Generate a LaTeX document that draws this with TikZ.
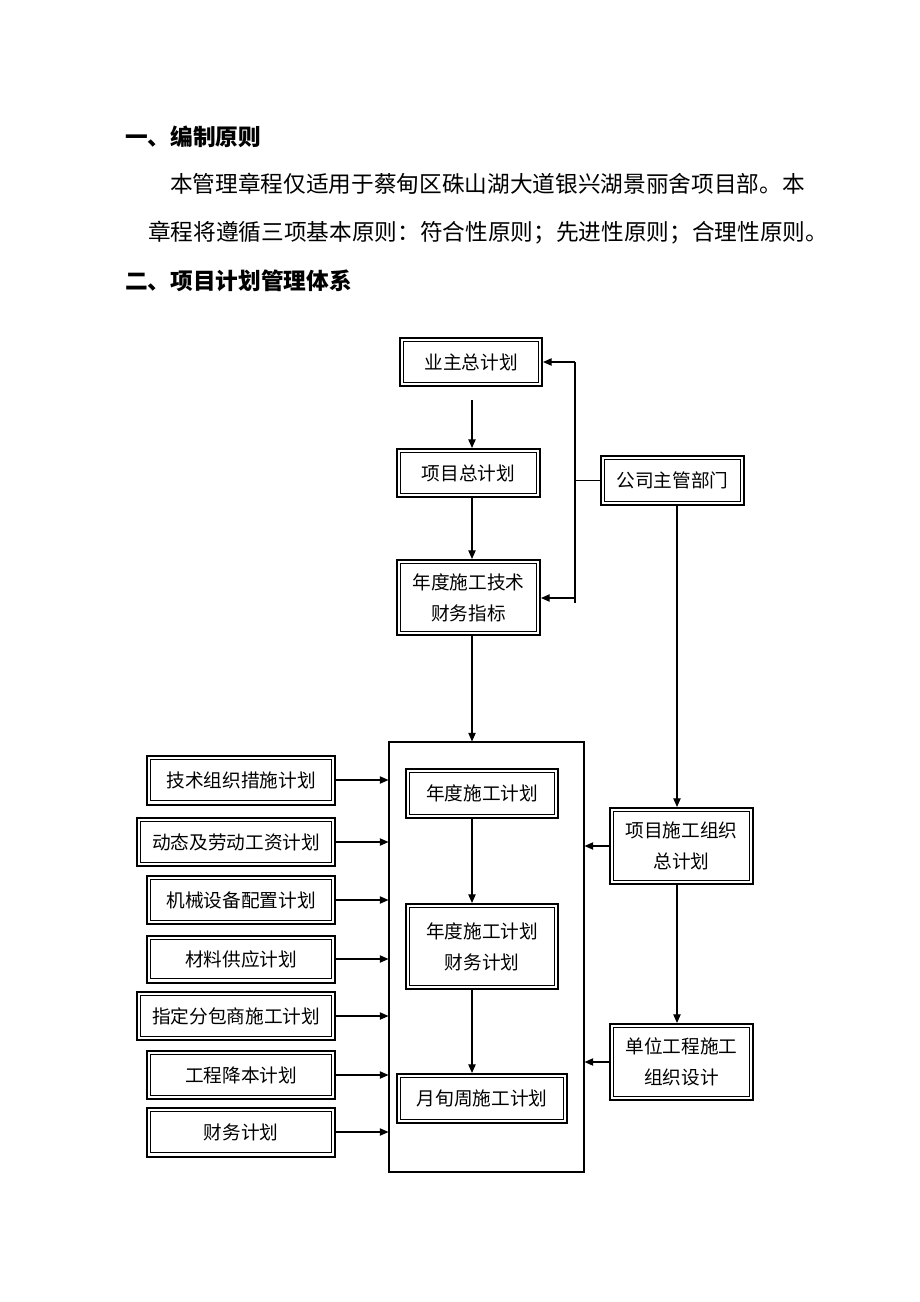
\documentclass[tikz,border=0pt]{standalone}
\usepackage{fontspec}
\newfontfamily\cjk{Noto Sans CJK SC}
\usetikzlibrary{arrows.meta}
\tikzset{
  dbox/.style={draw, line width=1.5pt, align=center, font=\cjk\fontsize{14}{23.25}\selectfont, inner sep=0pt,
    path picture={\draw[line width=0.6pt] ([shift={(2.8pt,-2.8pt)}]path picture bounding box.north west) rectangle ([shift={(-2.8pt,2.8pt)}]path picture bounding box.south east);}},
  arr/.style={line width=0.9pt, -{Triangle[length=6.5pt,width=5.5pt]}},
  ln/.style={line width=0.9pt},
  para/.style={anchor=west, inner sep=0pt, font=\cjk\fontsize{17}{20}\selectfont},
  head/.style={anchor=west, inner sep=0pt, font=\cjk\bfseries\fontsize{17}{20}\selectfont},
}
\begin{document}
\begin{tikzpicture}[x=0.75pt,y=-0.75pt]
\useasboundingbox (0,0) rectangle (920,1302);
% text
\node[head] (h1) at (125,137) {一、编制原则};
\node[para] (p1) at (170,184) {本管理章程仅适用于蔡甸区硃山湖大道银兴湖景丽舍项目部。本};
\node[para] (p2) at (148,233) {章程将遵循三项基本原则：符合性原则；先进性原则；合理性原则。};
\node[head] (h2) at (125,281) {二、项目计划管理体系};
% top column
\node[dbox, minimum width=106.5pt, minimum height=36pt] (a) at (471,362) {业主总计划};
\node[dbox, minimum width=107.25pt, minimum height=36pt] (b) at (468.5,473) {项目总计划};
\node[dbox, minimum width=107.25pt, minimum height=56.25pt] (c) at (468.5,597.5) {年度施工技术\\财务指标};
\node[dbox, minimum width=107.25pt, minimum height=36.75pt] (d) at (672.5,480.5) {公司主管部门};
% big container
\node[draw, line width=0.8pt, minimum width=146.25pt, minimum height=322.5pt, inner sep=0pt] (big) at (486.5,957) {};
\node[dbox, minimum width=114pt, minimum height=36.75pt] (e) at (482,793.5) {年度施工计划};
\node[dbox, minimum width=114pt, minimum height=63.75pt] (f) at (482,946.5) {年度施工计划\\财务计划};
\node[dbox, minimum width=127.5pt, minimum height=36.75pt] (g) at (482,1098.5) {月旬周施工计划};
% left column
\node[dbox, minimum width=141pt, minimum height=36.75pt] (l1) at (241,780) {技术组织措施计划};
\node[dbox, minimum width=148.5pt, minimum height=36pt] (l2) at (236,842) {动态及劳动工资计划};
\node[dbox, minimum width=141pt, minimum height=36pt] (l3) at (241,900) {机械设备配置计划};
\node[dbox, minimum width=141pt, minimum height=35.25pt] (l4) at (241,959) {材料供应计划};
\node[dbox, minimum width=148.5pt, minimum height=36pt] (l5) at (236,1016) {指定分包商施工计划};
\node[dbox, minimum width=141pt, minimum height=36pt] (l6) at (241,1075) {工程降本计划};
\node[dbox, minimum width=141pt, minimum height=36.75pt] (l7) at (241,1132) {财务计划};
% right column
\node[dbox, minimum width=107.25pt, minimum height=57pt] (r1) at (681.5,846) {项目施工组织\\总计划};
\node[dbox, minimum width=107.25pt, minimum height=57pt] (r2) at (681.5,1062) {单位工程施工\\组织设计};
% coordinates
\coordinate (a0) at (472,400);
\coordinate (colM) at (472,0);
\coordinate (colR) at (677,0);
\coordinate (j1) at (575,362);
\coordinate (j2) at (575,603);
\coordinate (j3) at (575,598);
% connectors
\draw[arr] (a0) -- (a0 |- b.north);
\draw[arr] (b.south -| colM) -- (c.north -| colM);
\draw[arr] (c.south -| colM) -- (big.north -| colM);
\draw[ln] (d.west) -- (d.west -| j1);
\draw[ln] (j1) -- (j2);
\draw[arr] (j1) -- (a.east);
\draw[arr] (j3) -- (j3 -| c.east);
\draw[arr] (d.south -| colR) -- (r1.north -| colR);
\draw[arr] (r1.south -| colR) -- (r2.north -| colR);
\draw[arr] (e.south -| colM) -- (f.north -| colM);
\draw[arr] (f.south -| colM) -- (g.north -| colM);
\foreach \n in {l1,l2,l3,l4,l5,l6,l7}{
  \draw[arr] (\n.east) -- (\n.east -| big.west);
}
\draw[arr] (r1.west) -- (r1.west -| big.east);
\draw[arr] (r2.west) -- (r2.west -| big.east);
\end{tikzpicture}
\end{document}
